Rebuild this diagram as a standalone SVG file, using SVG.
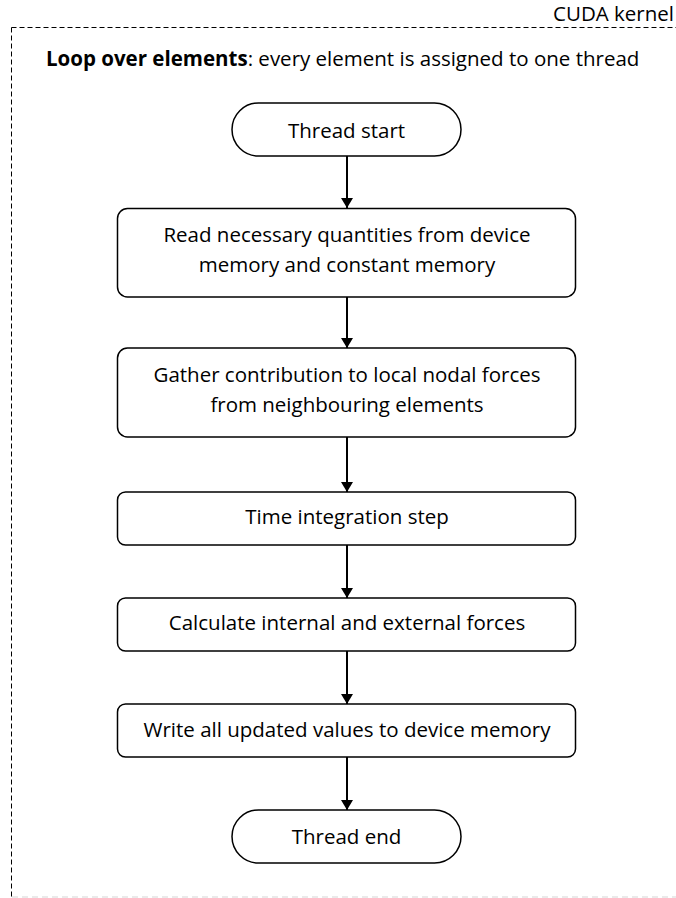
<svg xmlns="http://www.w3.org/2000/svg" width="676" height="898" viewBox="0 0 676 898">
  <defs>
    <marker id="arrow" markerWidth="10" markerHeight="12" refX="10" refY="6" orient="auto" markerUnits="userSpaceOnUse" viewBox="0 0 10 12">
      <path d="M0,0 L10,6 L0,12 Z" fill="#000"/>
    </marker>
    <style>
      .frame { fill: none; stroke: #000; stroke-width: 1; stroke-dasharray: 5 3; }
      .frame-bottom { fill: none; stroke: #e4e4e4; stroke-width: 1.5; stroke-dasharray: 6 4; }
      .box { fill: #fff; stroke: #000; stroke-width: 1.5; }
      .label { font-family: "Open Sans", "Liberation Sans", sans-serif; font-size: 20.5px; fill: #000; text-anchor: middle; }
      .caption { font-family: "Open Sans", "Liberation Sans", sans-serif; font-size: 20.5px; fill: #000; }
      .edge { fill: none; stroke: #000; stroke-width: 2; marker-end: url(#arrow); }
    </style>
  </defs>
  <rect width="676" height="898" fill="#fff"/>

  <!-- kernel frame -->
  <g id="kernel-frame">
    <path class="frame" d="M11.5,27.5 H676 M11.5,27.5 V897"/>
    <path class="frame-bottom" d="M12,897 H676"/>
    <text class="caption" x="674" y="20.5" text-anchor="end" font-size="17.5px">CUDA kernel</text>
    <text class="caption" x="46" y="65.5"><tspan font-weight="bold">Loop over elements</tspan>: every element is assigned to one thread</text>
  </g>

  <g id="thread-start">
    <rect class="box" x="232" y="103" width="229" height="53" rx="26.5" ry="26.5"/>
    <text class="label" x="346.5" y="138">Thread start</text>
  </g>

  <g id="read-quantities">
    <rect class="box" x="117.5" y="208.5" width="458" height="88.5" rx="10" ry="10"/>
    <text class="label" x="347" y="242">Read necessary quantities from device</text>
    <text class="label" x="347" y="272">memory and constant memory</text>
  </g>

  <g id="gather-forces">
    <rect class="box" x="117.5" y="348" width="458" height="89" rx="10" ry="10"/>
    <text class="label" x="347" y="381.5">Gather contribution to local nodal forces</text>
    <text class="label" x="347" y="411.5">from neighbouring elements</text>
  </g>

  <g id="time-integration">
    <rect class="box" x="117.5" y="492" width="458" height="53" rx="8" ry="8"/>
    <text class="label" x="347" y="523.5">Time integration step</text>
  </g>

  <g id="calc-forces">
    <rect class="box" x="117.5" y="598" width="458" height="53" rx="8" ry="8"/>
    <text class="label" x="347" y="630">Calculate internal and external forces</text>
  </g>

  <g id="write-values">
    <rect class="box" x="117.5" y="704" width="458" height="53" rx="8" ry="8"/>
    <text class="label" x="347" y="736.5">Write all updated values to device memory</text>
  </g>

  <g id="thread-end">
    <rect class="box" x="232" y="810" width="229" height="53" rx="26.5" ry="26.5"/>
    <text class="label" x="346.5" y="844">Thread end</text>
  </g>

  <g id="connectors">
    <line class="edge" x1="347" y1="156" x2="347" y2="208"/>
    <line class="edge" x1="347" y1="297" x2="347" y2="348"/>
    <line class="edge" x1="347" y1="437" x2="347" y2="492"/>
    <line class="edge" x1="347" y1="545" x2="347" y2="598"/>
    <line class="edge" x1="347" y1="651" x2="347" y2="704"/>
    <line class="edge" x1="347" y1="757" x2="347" y2="810"/>
  </g>
</svg>
